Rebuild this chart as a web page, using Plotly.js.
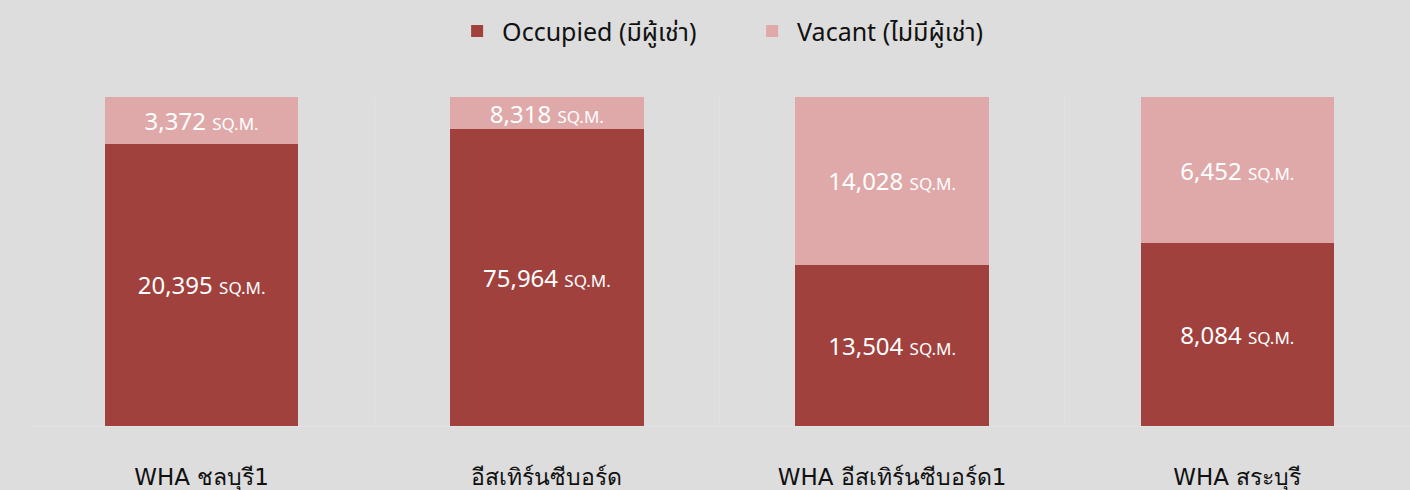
<!DOCTYPE html>
<html>
<head>
<meta charset="utf-8">
<script src="https://cdn.plot.ly/plotly-3.0.1.min.js"></script>
<style>
html,body{margin:0;padding:0;background:#dddddd;}
#chart{width:1410px;height:490px;}
</style>
</head>
<body>
<div id="chart"></div>
<script>
const categories = ["WHA ชลบุรี1", "อีสเทิร์นซีบอร์ด", "WHA อีสเทิร์นซีบอร์ด1", "WHA สระบุรี"];
const occupied = [20395, 75964, 13504, 8084];
const vacant = [3372, 8318, 14028, 6452];
const seriesNames = ["Occupied (มีผู้เช่า)", "Vacant (ไม่มีผู้เช่า)"];

const FONT = "'Noto Sans', 'Noto Sans Thai', 'Loma', sans-serif";
const TICKFONT = "'DejaVu Sans', 'Noto Sans', sans-serif";
const lbl = v => v.toLocaleString('en-US') + ' <span style="font-size:17px">SQ.M.</span>';

const common = {
  type: 'bar',
  x: categories,
  width: 0.56,
  textposition: 'inside',
  insidetextanchor: 'middle',
  constraintext: 'none',
  textangle: 0,
  textfont: {family: FONT, size: 24, color: '#ffffff'},
  hoverinfo: 'none'
};

const traces = [
  Object.assign({}, common, {
    name: seriesNames[0], y: occupied, text: occupied.map(lbl),
    marker: {color: '#a0413e', line: {width: 0}}
  }),
  Object.assign({}, common, {
    name: seriesNames[1], y: vacant, text: vacant.map(lbl),
    marker: {color: '#e0a9a9', line: {width: 0}}
  })
];

const layout = {
  width: 1410, height: 490,
  paper_bgcolor: '#dddddd', plot_bgcolor: '#dddddd',
  barmode: 'stack', barnorm: 'percent',
  margin: {l: 29, r: 0, t: 97, b: 64, autoexpand: false},
  font: {family: FONT, color: '#111111'},
  showlegend: true,
  legend: {
    orientation: 'h', x: 0.52, xanchor: 'center', y: 1.2, yanchor: 'middle',
    font: {family: FONT, size: 25, color: '#111111'},
    traceorder: 'normal', itemwidth: 40, entrywidth: 240, entrywidthmode: 'pixels',
    bgcolor: 'rgba(0,0,0,0)'
  },
  xaxis: {
    type: 'category', tickson: 'boundaries', showgrid: true,
    gridcolor: '#e2e2e2', gridwidth: 1, ticks: '', showline: true,
    linecolor: '#e2e2e2', linewidth: 1, zeroline: false,
    ticklabelstandoff: 30,
    tickfont: {family: TICKFONT, size: 23, color: '#111111'},
    automargin: false,
    fixedrange: true
  },
  yaxis: {
    range: [0, 100], visible: false, showgrid: false, zeroline: false, fixedrange: true
  }
};

Plotly.newPlot('chart', traces, layout, {displayModeBar: false, staticPlot: true});
</script>
</body>
</html>
